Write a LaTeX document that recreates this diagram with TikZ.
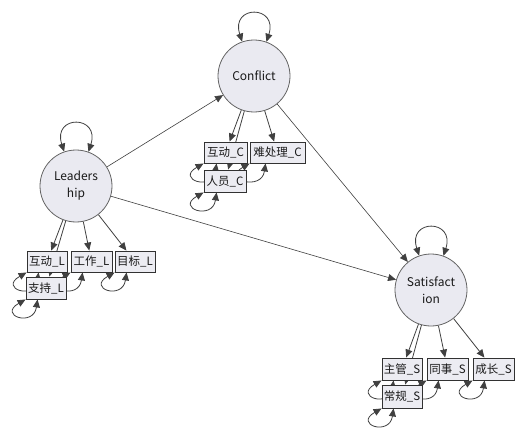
\documentclass[tikz,border=0pt]{standalone}
\usepackage{fontspec}
\setmainfont{Noto Sans CJK SC}
\usetikzlibrary{arrows.meta}
\pgfdeclarelayer{bg}
\pgfsetlayers{bg,main}
\definecolor{latfill}{RGB}{234,234,241}
\definecolor{boxfill}{RGB}{236,236,242}
\definecolor{circdraw}{RGB}{100,100,100}
\definecolor{boxdraw}{RGB}{50,50,50}
\definecolor{edgecol}{RGB}{64,64,64}
\definecolor{txt}{RGB}{25,25,25}
\begin{document}
\begin{tikzpicture}[x=1pt,y=-1pt,
  latent/.style={circle,draw=circdraw,fill=latfill,minimum size=72pt,inner sep=0pt,line width=0.8pt,align=center,font=\fontsize{12}{17}\selectfont,text=txt},
  manifest/.style={rectangle,draw=boxdraw,fill=boxfill,minimum height=21pt,inner sep=0.5pt,line width=0.9pt,font=\fontsize{11.5}{12}\selectfont,text=txt},
  tip/.tip={Triangle[length=8pt,width=7pt]},
  loadarrow/.style={draw=edgecol,line width=0.8pt,-tip},
  regarrow/.style={draw=edgecol,line width=0.6pt,-tip},
  dloop/.style={draw=edgecol,line width=0.8pt,tip-tip}
]
\useasboundingbox (0,0) rectangle (525,436);

% latent variables
\node[latent] (L) at (76,186) {Leaders\\hip};
\node[latent] (C) at (254,76) {Conflict};
\node[latent] (S) at (431,290) {Satisfact\\ion};

% indicators of Leadership
\node[manifest,minimum width=40pt] (IL1) at (47,261.5) {互动\_L};
\node[manifest,minimum width=41pt] (IL2) at (91.5,261.5) {工作\_L};
\node[manifest,minimum width=40pt] (IL3) at (135,261.5) {目标\_L};
\node[manifest,minimum width=40pt,minimum height=22pt] (IL4) at (46,288) {支持\_L};

% indicators of Conflict
\node[manifest,minimum width=43pt] (IC1) at (225.5,152.5) {互动\_C};
\node[manifest,minimum width=55pt] (IC2) at (277.5,152.5) {难处理\_C};
\node[manifest,minimum width=42pt,minimum height=22pt] (IC3) at (225,181) {人员\_C};

% indicators of Satisfaction
\node[manifest,minimum width=40pt,minimum height=22pt] (IS1) at (402,369) {主管\_S};
\node[manifest,minimum width=41pt,minimum height=22pt] (IS2) at (447.5,369) {同事\_S};
\node[manifest,minimum width=41pt,minimum height=22pt] (IS3) at (493.5,369) {成长\_S};
\node[manifest,minimum width=40pt,minimum height=23pt] (IS4) at (402,396.5) {常规\_S};

\begin{pgfonlayer}{bg}
\fill[white] (0,0) rectangle (525,436);
% structural paths
\draw[regarrow] (L) -- (C);
\draw[regarrow] (L) -- (S);
\draw[regarrow] (C) -- (S);

% loadings
\foreach \i in {IL1,IL2,IL3,IL4} \draw[loadarrow] (L) -- (\i);
\foreach \i in {IC1,IC2,IC3} \draw[loadarrow] (C) -- (\i);
\foreach \i in {IS1,IS2,IS3,IS4} \draw[loadarrow] (S) -- (\i);

% latent variances
\foreach \n in {L,C,S}
  \draw[dloop] (\n.109.5) .. controls +(-12,-37) and +(12,-37) .. (\n.70.5);

% residual variances
\foreach \b/\a in {IL1/12,IL2/12,IL3/12,IL4/12,IC1/13,IC2/16,IC3/13,IS1/12,IS2/12,IS3/12,IS4/12}
  \draw[dloop] (\b.south west) .. controls +(-28,16) and +(-4,28) .. ([xshift=\a pt]\b.south west);
\end{pgfonlayer}
\end{tikzpicture}
\end{document}
